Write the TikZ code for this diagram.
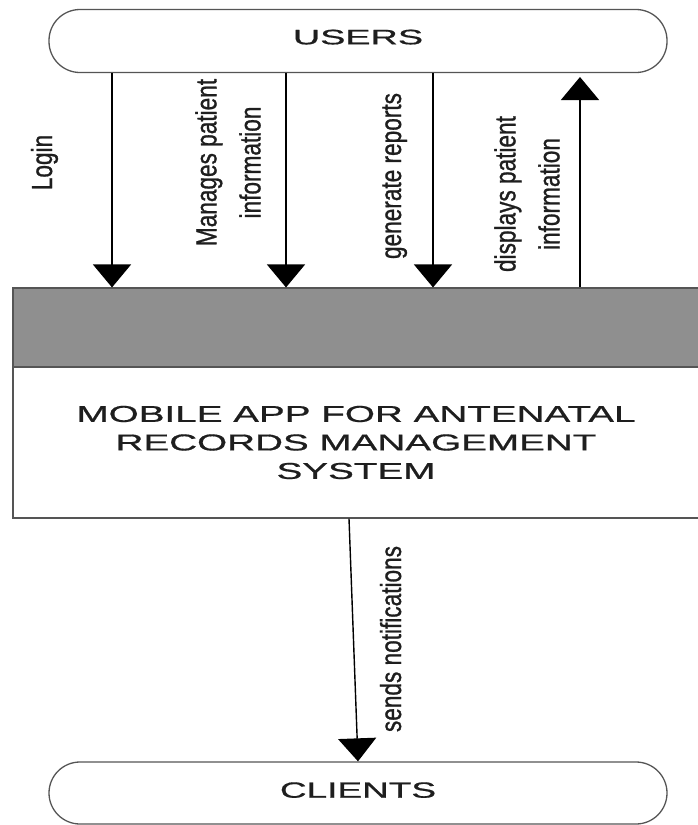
\documentclass[tikz,border=0pt]{standalone}
\usepackage{fontspec}
\setmainfont{Liberation Sans}
\newfontfamily\labelfont[FakeBold=1.1]{Liberation Sans}
\newfontfamily\titlefont[FakeBold=0.6]{Liberation Sans}
\usetikzlibrary{arrows.meta}

\definecolor{headgray}{RGB}{143,143,143}
\definecolor{edgegray}{RGB}{85,85,85}
\definecolor{inkgray}{RGB}{30,30,30}

\begin{document}
\begin{tikzpicture}[x=1pt,y=-1pt,
  stadium/.style={draw=edgegray, line width=1.3pt, rounded corners=31pt,
    minimum width=618pt, inner sep=0pt, text=inkgray},
  panel/.style={draw=edgegray, line width=1.1pt, minimum width=686pt, inner sep=0pt},
  flow/.style={draw=black, line width=1.4pt, -{Triangle[length=23pt,width=38pt]}},
  lbl/.style={font=\labelfont\fontsize{29}{44}\selectfont, inner sep=0pt, text=inkgray,
    align=center, rotate=90, xscale=0.78},
  bodytext/.style={font=\titlefont\fontsize{23}{28.5}\selectfont, align=center, text=inkgray}
]
\useasboundingbox (0,0) rectangle (697,825);
\fill[white] (0,0) rectangle (697,825);

% external entities
\node[stadium, minimum height=63pt, text depth=8pt,
      font=\titlefont\fontsize{21}{25}\selectfont] (users) at (358,41) {\scalebox{1.8}[1]{USERS}};
\node[stadium, minimum height=62pt, text depth=6pt,
      font=\titlefont\fontsize{22}{26}\selectfont] (clients) at (358,793) {\scalebox{1.68}[1]{CLIENTS}};

% the system process box
\node[panel, fill=headgray, minimum height=79pt] (head) at (356,327.5) {};
\node[panel, fill=white, minimum height=151pt, bodytext] (body) at (356,442.5)
  {\scalebox{1.68}[1]{MOBILE APP FOR ANTENATAL}\\
   \scalebox{1.68}[1]{RECORDS MANAGEMENT}\\
   \scalebox{1.68}[1]{SYSTEM}};

% connector columns
\coordinate (c1) at (112,0);
\coordinate (c2) at (286,0);
\coordinate (c3) at (433,0);
\coordinate (t4) at (580,77);
\coordinate (b1) at (349,0);
\coordinate (b2) at (358,0);

\draw[flow] (users.south -| c1) -- (head.north -| c1);
\draw[flow] (users.south -| c2) -- (head.north -| c2);
\draw[flow] (users.south -| c3) -- (head.north -| c3);
\draw[flow] (head.north -| t4) -- (t4);
\draw[flow] (body.south -| b1) -- (clients.north -| b2);

% flow labels
\node[lbl, anchor=base] (lLogin) at (52,162.5) {Login};
\node[lbl] (lManage) at (228,162.5) {Manages patient\\information};
\node[lbl, anchor=base] (lReport) at (401,176) {generate reports};
\node[lbl] (lDisplay) at (527,194) {displays patient\\information};
\node[lbl, anchor=base] (lNotify) at (401,639) {sends notifications};
\end{tikzpicture}
\end{document}
